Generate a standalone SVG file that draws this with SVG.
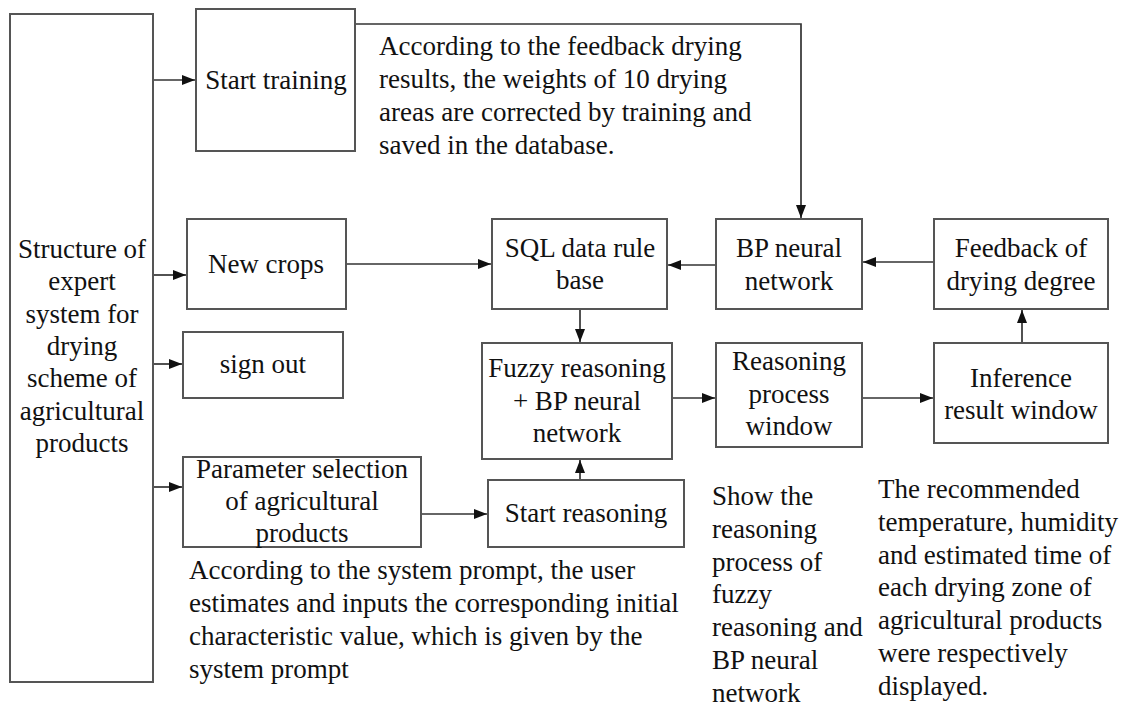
<svg xmlns="http://www.w3.org/2000/svg" width="1125" height="707" viewBox="0 0 1125 707">
<style>
.box{fill:#fff;stroke:#555;stroke-width:2}
.t{font-family:"Liberation Serif","Times New Roman",serif;font-size:27px;fill:#111}
.m{text-anchor:middle}
.c{fill:none;stroke:#333;stroke-width:1.7}
</style>
<defs>
<marker id="ah" markerUnits="userSpaceOnUse" markerWidth="13" markerHeight="10" refX="13" refY="5" orient="auto">
<path d="M0,0 L13,5 L0,10 z" fill="#111"/>
</marker>
</defs>
<rect width="1125" height="707" fill="#fff"/>
<g id="connectors">
<path class="c" d="M154,80 H195" marker-end="url(#ah)"/>
<path class="c" d="M154,275 H186" marker-end="url(#ah)"/>
<path class="c" d="M154,364 H182" marker-end="url(#ah)"/>
<path class="c" d="M154,487 H182" marker-end="url(#ah)"/>
<path class="c" d="M355,24 H801 V218" marker-end="url(#ah)"/>
<path class="c" d="M346,264 H491" marker-end="url(#ah)"/>
<path class="c" d="M716,265 H668" marker-end="url(#ah)"/>
<path class="c" d="M934,262 H863" marker-end="url(#ah)"/>
<path class="c" d="M580,309 V342" marker-end="url(#ah)"/>
<path class="c" d="M580,480 V460" marker-end="url(#ah)"/>
<path class="c" d="M421,514 H487" marker-end="url(#ah)"/>
<path class="c" d="M672,398 H715" marker-end="url(#ah)"/>
<path class="c" d="M862,398 H933" marker-end="url(#ah)"/>
<path class="c" d="M1022,343 V310" marker-end="url(#ah)"/>
</g>
<g id="structure">
<rect class="box" x="10" y="14" width="143" height="668"/>
<text class="t m" x="82"><tspan x="82" y="258">Structure of</tspan><tspan x="82" y="290">expert</tspan><tspan x="82" y="323">system for</tspan><tspan x="82" y="355">drying</tspan><tspan x="82" y="387">scheme of</tspan><tspan x="82" y="420">agricultural</tspan><tspan x="82" y="452">products</tspan></text>
</g>
<g id="start-training">
<rect class="box" x="196" y="9" width="159" height="142"/>
<text class="t m" x="276" y="89">Start training</text>
</g>
<g id="training-note">
<text class="t" x="379"><tspan x="379" y="55">According to the feedback drying</tspan><tspan x="379" y="88">results, the weights of 10 drying</tspan><tspan x="379" y="121">areas are corrected by training and</tspan><tspan x="379" y="154">saved in the database.</tspan></text>
</g>
<g id="new-crops">
<rect class="box" x="187" y="219" width="159" height="90"/>
<text class="t m" x="266" y="273">New crops</text>
</g>
<g id="sign-out">
<rect class="box" x="183" y="332" width="160" height="66"/>
<text class="t m" x="263" y="373">sign out</text>
</g>
<g id="parameter-selection">
<rect class="box" x="183" y="457" width="238" height="90"/>
<text class="t m" x="302"><tspan x="302" y="478">Parameter selection</tspan><tspan x="302" y="510">of agricultural</tspan><tspan x="302" y="542">products</tspan></text>
</g>
<g id="parameter-note">
<text class="t" x="189"><tspan x="189" y="579">According to the system prompt, the user</tspan><tspan x="189" y="612">estimates and inputs the corresponding initial</tspan><tspan x="189" y="645">characteristic value, which is given by the</tspan><tspan x="189" y="678">system prompt</tspan></text>
</g>
<g id="sql-base">
<rect class="box" x="492" y="219" width="175" height="90"/>
<text class="t m" x="580"><tspan x="580" y="257">SQL data rule</tspan><tspan x="580" y="289">base</tspan></text>
</g>
<g id="fuzzy">
<rect class="box" x="482" y="343" width="190" height="116"/>
<text class="t m" x="577"><tspan x="577" y="377">Fuzzy reasoning</tspan><tspan x="577" y="410">+ BP neural</tspan><tspan x="577" y="442">network</tspan></text>
</g>
<g id="start-reasoning">
<rect class="box" x="488" y="480" width="196" height="67"/>
<text class="t m" x="586" y="522">Start reasoning</text>
</g>
<g id="bp-network">
<rect class="box" x="716" y="219" width="146" height="90"/>
<text class="t m" x="789"><tspan x="789" y="257">BP neural</tspan><tspan x="789" y="290">network</tspan></text>
</g>
<g id="feedback">
<rect class="box" x="934" y="219" width="174" height="90"/>
<text class="t m" x="1021"><tspan x="1021" y="257">Feedback of</tspan><tspan x="1021" y="290">drying degree</tspan></text>
</g>
<g id="reasoning-window">
<rect class="box" x="716" y="343" width="146" height="104"/>
<text class="t m" x="789"><tspan x="789" y="370">Reasoning</tspan><tspan x="789" y="403">process</tspan><tspan x="789" y="435">window</tspan></text>
</g>
<g id="inference-window">
<rect class="box" x="934" y="343" width="174" height="100"/>
<text class="t m" x="1021"><tspan x="1021" y="387">Inference</tspan><tspan x="1021" y="419">result window</tspan></text>
</g>
<g id="reasoning-note">
<text class="t" x="712"><tspan x="712" y="505">Show the</tspan><tspan x="712" y="538">reasoning</tspan><tspan x="712" y="571">process of</tspan><tspan x="712" y="603">fuzzy</tspan><tspan x="712" y="636">reasoning and</tspan><tspan x="712" y="669">BP neural</tspan><tspan x="712" y="702">network</tspan></text>
</g>
<g id="inference-note">
<text class="t" x="878"><tspan x="878" y="498">The recommended</tspan><tspan x="878" y="531">temperature, humidity</tspan><tspan x="878" y="564">and estimated time of</tspan><tspan x="878" y="596">each drying zone of</tspan><tspan x="878" y="629">agricultural products</tspan><tspan x="878" y="662">were respectively</tspan><tspan x="878" y="695">displayed.</tspan></text>
</g>
</svg>
